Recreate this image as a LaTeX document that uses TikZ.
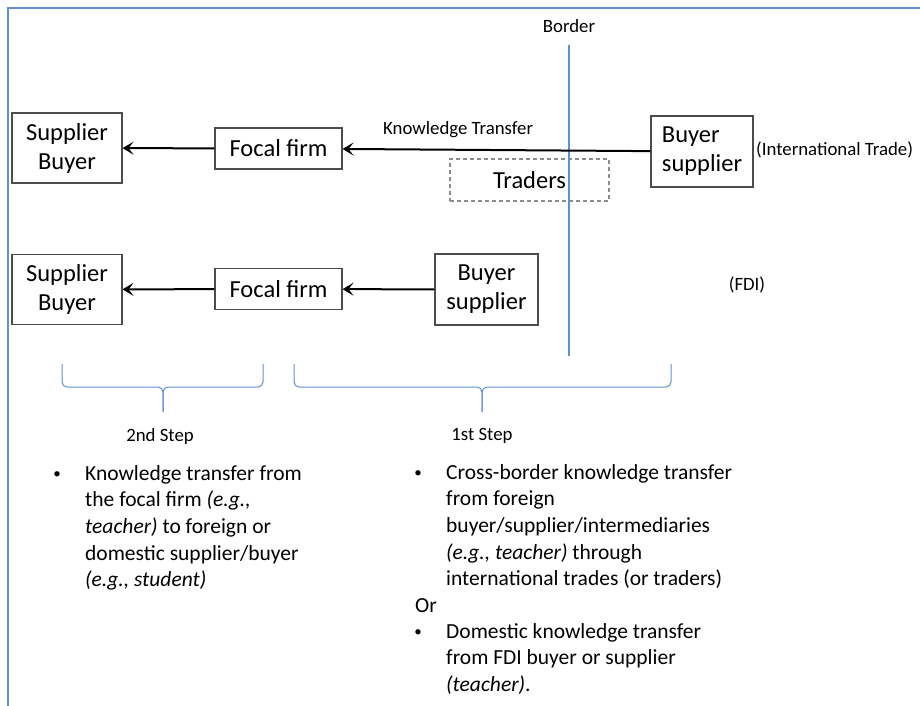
\documentclass[tikz,border=0pt]{standalone}
\usepackage{fontspec}
\setmainfont{Carlito}
\usepackage{tikz}
\usetikzlibrary{arrows.meta}
\definecolor{lineblue}{RGB}{95,145,210}

\begin{document}
\begin{tikzpicture}[x=1pt,y=-1pt,
    box/.style={draw=black!70,line width=1.1pt,inner sep=2pt,font=\fontsize{24.5}{29}\selectfont},
    dashbox/.style={draw=black!45,line width=1.1pt,dash pattern=on 4pt off 3pt,font=\fontsize{24.5}{29}\selectfont},
    small/.style={font=\fontsize{18.8}{22}\selectfont,inner sep=0pt},
    body/.style={font=\fontsize{21.5}{26.7}\selectfont,align=left,inner sep=0pt},
    dot/.style={font=\fontsize{15}{18}\selectfont,inner sep=0pt},
    flow/.style={line width=2pt,-{Stealth[length=11pt,width=13pt,inset=5pt]}},
    brace/.style={lineblue,line width=1pt,rounded corners=5pt}]
    \useasboundingbox (0,0) rectangle (920,706);
    \draw[lineblue,line width=1.2pt] (920,8) -- (8,8) -- (8,706);

    \node[box,align=center,minimum width=110pt,minimum height=70pt] (sb1) at (67,148) {Supplier\\Buyer};
    \node[box,minimum width=127pt,minimum height=41pt] (ff1) at (278.5,148.5) {Focal firm};
    \node[box,align=left,minimum width=102pt,minimum height=71pt] (bs1) at (702,151.5) {Buyer\\supplier};
    \node[dashbox,minimum width=159pt,minimum height=42pt] (tr) at (529.5,180) {Traders};
    \node[box,align=center,minimum width=110pt,minimum height=70pt] (sb2) at (67,289.5) {Supplier\\Buyer};
    \node[box,minimum width=127pt,minimum height=41pt] (ff2) at (278.5,289) {Focal firm};
    \node[box,align=center,minimum width=103pt,minimum height=71pt] (bs2) at (486.5,289.5) {Buyer\\supplier};

    \node[small,anchor=base west] (kt) at (383,135) {Knowledge Transfer};
    \node[small,anchor=base west] (it) at (756,155) {(International Trade)};
    \node[small,anchor=base] (fdi) at (747,290) {(FDI)};
    \node[small,anchor=base] (bd) at (569,33) {Border};
    \coordinate (bdtop) at (569,45);
    \coordinate (bdbot) at (569,356);
    \draw[lineblue,line width=1.2pt] (bdtop) -- (bdbot);

    \draw[flow] (ff1) -- (sb1);
    \draw[flow] (bs1) -- (ff1);
    \draw[flow] (ff2) -- (sb2);
    \draw[flow] (bs2) -- (ff2);

    \draw[brace] (62,364) -- (62,387) -- (163,387) -- (163,412);
    \draw[brace] (263,364) -- (263,387) -- (163,387) -- (163,412);
    \draw[brace] (294,364) -- (294,387) -- (482,387) -- (482,412);
    \draw[brace] (671,364) -- (671,387) -- (482,387) -- (482,412);

    \node[small,anchor=base] (s2) at (160,441) {2nd Step};
    \node[small,anchor=base] (s1) at (482,440) {1st Step};

    \node[dot,anchor=base] (b1) at (57,478) {\textbullet};
    \node[body,anchor=north west] (t1) at (85,465) {Knowledge transfer from\\the focal firm \textit{(e.g.,}\\\textit{teacher)} to foreign or\\domestic supplier/buyer\\\textit{(e.g., student)}};
    \node[dot,anchor=base] (b2) at (418,477) {\textbullet};
    \node[body,anchor=north west] (t2) at (446,464) {Cross-border knowledge transfer\\from foreign\\buyer/supplier/intermediaries\\\textit{(e.g., teacher)} through\\international trades (or traders)};
    \node[body,anchor=base west] (or) at (415,612) {Or};
    \node[dot,anchor=base] (b3) at (418,636) {\textbullet};
    \node[body,anchor=north west] (t3) at (446,623) {Domestic knowledge transfer\\from FDI buyer or supplier\\\textit{(teacher)}.};
  \end{tikzpicture}
\end{document}
